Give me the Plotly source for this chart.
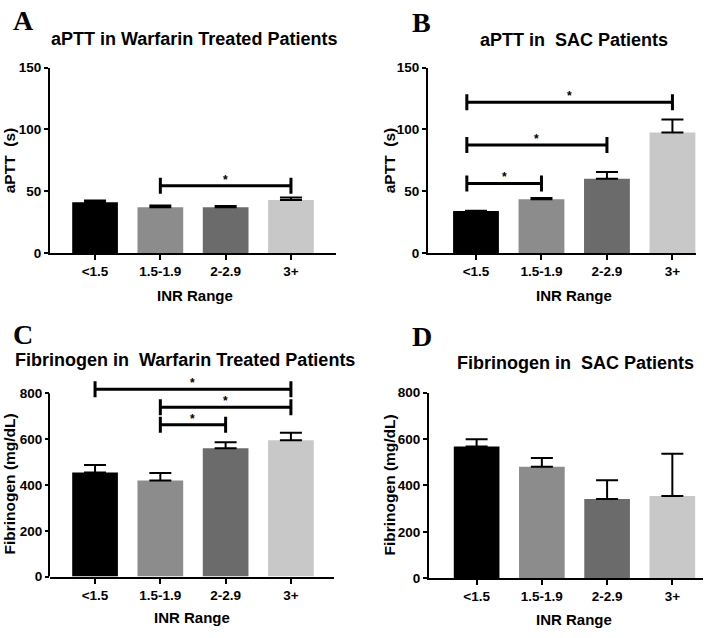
import plotly.graph_objects as go

categories = ["<1.5", "1.5-1.9", "2-2.9", "3+"]
bar_colors = ["#000000", "#8c8c8c", "#6b6b6b", "#c8c8c8"]

aptt_warfarin = [41, 37, 37, 43]
aptt_warfarin_err = [1.5, 1.5, 1.0, 2.0]
aptt_sac = [34, 43.5, 60, 97.5]
aptt_sac_err = [0.3, 1.0, 5.5, 10.5]
fib_warfarin = [455, 420, 560, 595]
fib_warfarin_err = [32, 32, 27, 33]
fib_sac = [568, 481, 342, 355]
fib_sac_err = [31, 38, 80, 182]

# significance brackets: (start position, end position, height)
sig_a = [(1, 3, 54.5)]
sig_b = [(-0.14, 1, 56.3), (-0.14, 2, 87.4), (-0.14, 3, 122)]
sig_c = [(0, 3, 818), (1, 3, 739), (1, 2, 663)]
sig_d = []

NB = "\u00a0"
panels = [
    dict(key="", letter="A", title="aPTT in Warfarin Treated Patients", ytitle="aPTT" + NB + " (s)",
         vals=aptt_warfarin, err=aptt_warfarin_err, sig=sig_a,
         xdom=[50, 336], ydom=[252, 62], xr=[-0.69, 3.69], yr=[0, 150], ticks=[0, 50, 100, 150], ymax=150,
         letter_pos=(23, 14), title_pos=(194, 33), ytitle_pos=(9, 158), xtitle_pos=(195, 295)),
    dict(key="2", letter="B", title="aPTT in" + NB + " SAC Patients", ytitle="aPTT" + NB + " (s)",
         vals=aptt_sac, err=aptt_sac_err, sig=sig_b,
         xdom=[428, 696], ydom=[252, 62], xr=[-0.733, 3.36], yr=[0, 150], ticks=[0, 50, 100, 150], ymax=150,
         letter_pos=(421, 16), title_pos=(574, 33.5), ytitle_pos=(389, 158), xtitle_pos=(574, 295)),
    dict(key="3", letter="C", title="Fibrinogen in" + NB + " Warfarin Treated Patients", ytitle="Fibrinogen (mg/dL)",
         vals=fib_warfarin, err=fib_warfarin_err, sig=sig_c,
         xdom=[50, 334], ydom=[583.3, 381.6], xr=[-0.69, 3.66], yr=[0, 860], ticks=[0, 200, 400, 600, 800], ymax=800,
         letter_pos=(23, 335), title_pos=(185, 361.5), ytitle_pos=(10, 489), xtitle_pos=(192, 625)),
    dict(key="4", letter="D", title="Fibrinogen in" + NB + " SAC Patients", ytitle="Fibrinogen (mg/dL)",
         vals=fib_sac, err=fib_sac_err, sig=sig_d,
         xdom=[429, 703], ydom=[585, 395], xr=[-0.73, 3.47], yr=[0, 800], ticks=[0, 200, 400, 600, 800], ymax=800,
         letter_pos=(422, 337), title_pos=(575, 365), ytitle_pos=(389, 490), xtitle_pos=(574, 627)),
]

W, H = 720, 638
SANS = "Liberation Sans, Arial, sans-serif"
SERIF = "Liberation Serif, Times New Roman, serif"


def px(x):
    return x / W


def py(y):
    return 1 - y / H


def bold(s):
    return "<b>" + s + "</b>"


fig = go.Figure()
layout = dict(width=W, height=H, margin=dict(l=0, r=0, t=0, b=0),
              plot_bgcolor="white", paper_bgcolor="white", showlegend=False)
shapes = []
annotations = []
tickfont = dict(family=SANS, size=13.5, color="black")

for p in panels:
    k = p["key"]
    xa = "x" + k
    ya = "y" + k
    fig.add_trace(go.Bar(
        x=list(range(len(categories))), y=p["vals"], width=0.7,
        marker=dict(color=bar_colors, line=dict(width=0)),
        error_y=dict(type="data", symmetric=False, array=p["err"], arrayminus=[0] * len(categories),
                     color="black", thickness=2, width=11),
        xaxis=xa, yaxis=ya, hoverinfo="skip"))
    extended = p["yr"][1] > p["ymax"]
    layout["xaxis" + k] = dict(
        domain=[px(p["xdom"][0]), px(p["xdom"][1])], range=p["xr"], anchor=ya,
        tickmode="array", tickvals=list(range(len(categories))), ticktext=[bold(c) for c in categories],
        showline=True, linewidth=2, linecolor="black", ticks="outside", ticklen=5, tickwidth=2,
        tickcolor="black", showgrid=False, zeroline=False, tickfont=tickfont)
    layout["yaxis" + k] = dict(
        domain=[py(p["ydom"][0]), py(p["ydom"][1])], range=p["yr"], anchor=xa,
        tickmode="array", tickvals=p["ticks"], ticktext=[bold(str(t)) for t in p["ticks"]],
        showline=not extended, linewidth=2, linecolor="black", ticks="outside", ticklen=4, tickwidth=2,
        tickcolor="black", showgrid=False, zeroline=False, tickfont=tickfont)
    if extended:
        shapes.append(dict(type="line", xref="paper", yref=ya,
                           x0=px(p["xdom"][0] - 1), x1=px(p["xdom"][0] - 1), y0=0, y1=p["ymax"],
                           line=dict(color="black", width=2)))
    for (x0, x1, yv) in p["sig"]:
        shapes.append(dict(type="line", xref=xa, yref=ya, x0=x0, x1=x1, y0=yv, y1=yv,
                           line=dict(color="black", width=3)))
        for xv in (x0, x1):
            shapes.append(dict(type="line", xref=xa, yref=ya, ysizemode="pixel", yanchor=yv,
                               x0=xv, x1=xv, y0=-8, y1=8, line=dict(color="black", width=3)))
        annotations.append(dict(x=(x0 + x1) / 2, y=yv, xref=xa, yref=ya, text=bold("*"), showarrow=False,
                                yanchor="bottom", yshift=-3,
                                font=dict(family=SANS, size=12, color="black")))
    annotations.append(dict(x=px(p["letter_pos"][0]), y=py(p["letter_pos"][1]), xref="paper", yref="paper",
                            text=bold(p["letter"]), showarrow=False, xanchor="center", yanchor="middle",
                            font=dict(family=SERIF, size=28, color="black")))
    annotations.append(dict(x=px(p["title_pos"][0]), y=py(p["title_pos"][1]), xref="paper", yref="paper",
                            text=bold(p["title"]), showarrow=False, xanchor="center", yanchor="middle",
                            font=dict(family=SANS, size=18, color="black")))
    annotations.append(dict(x=px(p["ytitle_pos"][0]), y=py(p["ytitle_pos"][1]), xref="paper", yref="paper",
                            text=bold(p["ytitle"]), showarrow=False, textangle=-90, xanchor="center",
                            yanchor="middle", font=dict(family=SANS, size=15.5, color="black")))
    annotations.append(dict(x=px(p["xtitle_pos"][0]), y=py(p["xtitle_pos"][1]), xref="paper", yref="paper",
                            text=bold("INR Range"), showarrow=False, xanchor="center", yanchor="middle",
                            font=dict(family=SANS, size=15, color="black")))

layout["shapes"] = shapes
layout["annotations"] = annotations
fig.update_layout(**layout)
fig.write_html("out.html", config={"displayModeBar": False},
               post_script="document.body.style.margin='0';document.body.style.overflow='hidden';")
